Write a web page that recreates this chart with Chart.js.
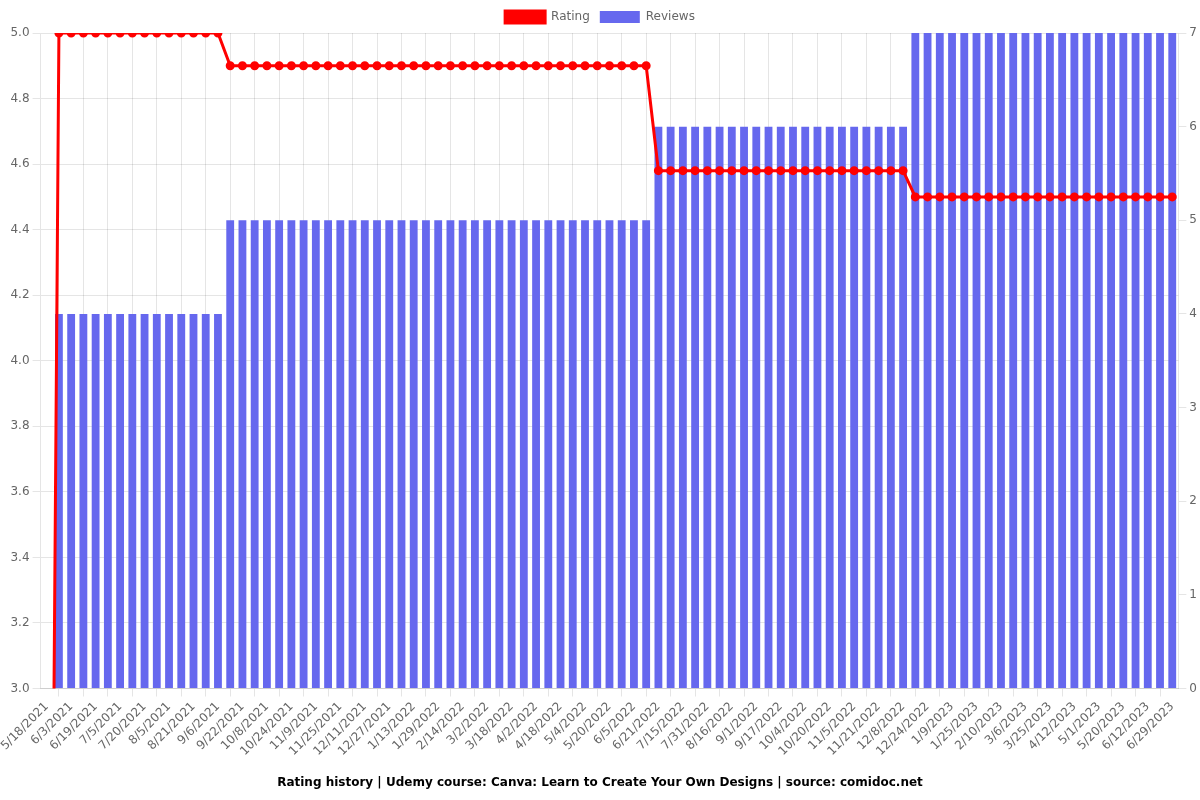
<!DOCTYPE html>
<html>
<head>
<meta charset="utf-8">
<script src="https://cdn.jsdelivr.net/npm/chart.js@4/dist/chart.umd.min.js"></script>
<style>
html,body{margin:0;padding:0;background:#fff;}
#wrap{width:1200px;height:800px;position:relative;}
</style>
</head>
<body>
<div id="wrap"><canvas id="c"></canvas></div>
<script>
const dates = [
"5/18/2021","5/26/2021","6/3/2021","6/11/2021","6/19/2021","6/27/2021","7/5/2021","7/12/2021","7/20/2021","7/28/2021",
"8/5/2021","8/13/2021","8/21/2021","8/29/2021","9/6/2021","9/14/2021","9/22/2021","9/30/2021","10/8/2021","10/16/2021",
"10/24/2021","11/1/2021","11/9/2021","11/17/2021","11/25/2021","12/3/2021","12/11/2021","12/19/2021","12/27/2021","1/4/2022",
"1/13/2022","1/21/2022","1/29/2022","2/6/2022","2/14/2022","2/22/2022","3/2/2022","3/10/2022","3/18/2022","3/26/2022",
"4/2/2022","4/10/2022","4/18/2022","4/26/2022","5/4/2022","5/12/2022","5/20/2022","5/28/2022","6/5/2022","6/13/2022",
"6/21/2022","7/3/2022","7/15/2022","7/23/2022","7/31/2022","8/8/2022","8/16/2022","8/24/2022","9/1/2022","9/9/2022",
"9/17/2022","9/25/2022","10/4/2022","10/12/2022","10/20/2022","10/28/2022","11/5/2022","11/13/2022","11/21/2022","11/29/2022",
"12/8/2022","12/16/2022","12/24/2022","1/1/2023","1/9/2023","1/17/2023","1/25/2023","2/2/2023","2/10/2023","2/22/2023",
"3/6/2023","3/15/2023","3/25/2023","4/3/2023","4/12/2023","4/21/2023","5/1/2023","5/10/2023","5/20/2023","5/31/2023",
"6/12/2023","6/20/2023","6/29/2023"
];
const rating = [
0,
5,5,5,5,5,5,5,5,5,5,5,5,5,5,
4.9,4.9,4.9,4.9,4.9,4.9,4.9,4.9,4.9,4.9,4.9,4.9,4.9,4.9,4.9,4.9,4.9,4.9,4.9,4.9,4.9,4.9,4.9,4.9,4.9,4.9,4.9,4.9,4.9,4.9,4.9,4.9,4.9,4.9,4.9,
4.58,4.58,4.58,4.58,4.58,4.58,4.58,4.58,4.58,4.58,4.58,4.58,4.58,4.58,4.58,4.58,4.58,4.58,4.58,4.58,4.58,
4.5,4.5,4.5,4.5,4.5,4.5,4.5,4.5,4.5,4.5,4.5,4.5,4.5,4.5,4.5,4.5,4.5,4.5,4.5,4.5,4.5,4.5
];
const reviews = [
0,
4,4,4,4,4,4,4,4,4,4,4,4,4,4,
5,5,5,5,5,5,5,5,5,5,5,5,5,5,5,5,5,5,5,5,5,5,5,5,5,5,5,5,5,5,5,5,5,5,5,
6,6,6,6,6,6,6,6,6,6,6,6,6,6,6,6,6,6,6,6,6,
7,7,7,7,7,7,7,7,7,7,7,7,7,7,7,7,7,7,7,7,7,7
];
const titleText = "Rating history | Udemy course: Canva: Learn to Create Your Own Designs | source: comidoc.net";

Chart.defaults.font.family = "'DejaVu Sans', sans-serif";
Chart.defaults.font.size = 12;
Chart.defaults.color = '#666';

new Chart(document.getElementById('c'), {
  type: 'bar',
  data: {
    labels: dates,
    datasets: [
      {
        type: 'line',
        label: 'Rating',
        data: rating,
        yAxisID: 'y',
        borderColor: 'rgb(255,0,0)',
        backgroundColor: 'rgb(255,0,0)',
        pointBackgroundColor: 'rgb(255,0,0)',
        pointBorderColor: 'rgb(255,0,0)',
        borderWidth: 3,
        pointRadius: 3,
        tension: 0,
        fill: false
      },
      {
        type: 'bar',
        label: 'Reviews',
        data: reviews,
        yAxisID: 'y1',
        backgroundColor: 'rgb(102,104,238)',
        borderWidth: 0,
        barPercentage: 0.8,
        categoryPercentage: 0.8
      }
    ]
  },
  options: {
    responsive: true,
    maintainAspectRatio: false,
    animation: false,
    layout: { padding: { top: 1 } },
    plugins: {
      legend: { position: 'top' },
      title: {
        display: true,
        position: 'bottom',
        text: titleText,
        color: '#000',
        font: { size: 12, weight: 'bold' },
        padding: { top: 14, bottom: 10 }
      },
      tooltip: { enabled: false }
    },
    scales: {
      x: {
        ticks: { maxRotation: 45, minRotation: 45, autoSkip: true, autoSkipPadding: 0 }
      },
      y: {
        position: 'left',
        min: 3,
        max: 5,
        ticks: { stepSize: 0.2, callback: v => Number(v).toFixed(1) }
      },
      y1: {
        position: 'right',
        min: 0,
        max: 7,
        ticks: { stepSize: 1 },
        grid: { drawOnChartArea: false }
      }
    }
  }
});
</script>
</body>
</html>
